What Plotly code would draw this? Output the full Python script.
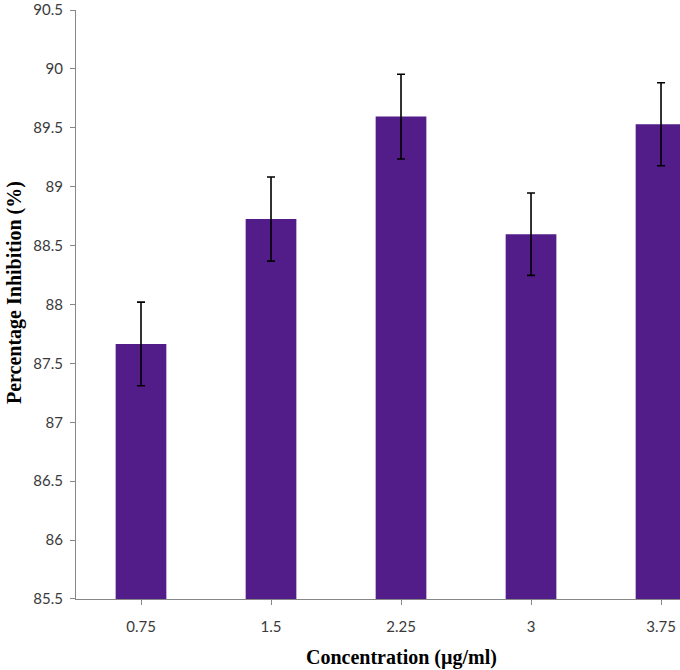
import plotly.graph_objects as go

categories = ["0.75", "1.5", "2.25", "3", "3.75"]
inhibition = [87.665, 88.725, 89.595, 88.597, 89.53]
errors = [0.355, 0.357, 0.36, 0.35, 0.352]
y_ticks = [85.5, 86, 86.5, 87, 87.5, 88, 88.5, 89, 89.5, 90, 90.5]

bar_color = "#521D89"
axis_color = "#878787"
tick_font = dict(family="Lato, Carlito, sans-serif", size=15, color="#3a3a3a")
title_font = dict(family="Liberation Serif, Times New Roman, serif", size=20, color="#000000")

fig = go.Figure()
fig.add_trace(go.Bar(
    x=list(range(len(categories))),
    y=[v - 85.5 for v in inhibition],
    base=85.5,
    marker=dict(color=bar_color, line=dict(width=0)),
    error_y=dict(type="data", array=errors, visible=True, color="#000000", thickness=1.6, width=4),
    width=0.39,
))

fig.update_layout(
    width=680, height=670,
    margin=dict(l=76, r=0, t=8, b=71),
    paper_bgcolor="white", plot_bgcolor="white",
    showlegend=False,
    xaxis=dict(
        range=[-0.5, 4.146],
        tickmode="array",
        tickvals=list(range(len(categories))),
        ticktext=categories,
        tickson="boundaries",
        ticks="outside", ticklen=5, tickcolor=axis_color,
        showline=True, linecolor=axis_color, linewidth=1,
        showgrid=False, zeroline=False,
        tickfont=tick_font,
        ticklabelstandoff=9,
    ),
    yaxis=dict(
        range=[85.4999, 90.5001],
        tickmode="array",
        tickvals=y_ticks,
        ticktext=[f"{t:g}" for t in y_ticks],
        ticks="outside", ticklen=5, tickcolor=axis_color,
        showline=True, linecolor=axis_color, linewidth=1,
        showgrid=False, zeroline=False,
        tickfont=tick_font,
        ticklabelstandoff=4,
        ticklabeloverflow="allow",
    ),
    annotations=[
        dict(text="<b>Concentration (µg/ml)</b>", xref="paper", yref="paper",
             x=(401 - 76) / 604, y=-(658 - 599) / 591, xanchor="center", yanchor="middle",
             showarrow=False, font=title_font),
        dict(text="<b>Percentage Inhibition (%)</b>", xref="paper", yref="paper",
             x=-(76 - 14) / 604, y=(599 - 292) / 591, xanchor="center", yanchor="middle",
             textangle=-90, showarrow=False, font=title_font),
    ],
)

fig.write_html("out.html", config={"displayModeBar": False},
               post_script="document.body.style.margin='0';document.body.style.overflow='hidden';")
